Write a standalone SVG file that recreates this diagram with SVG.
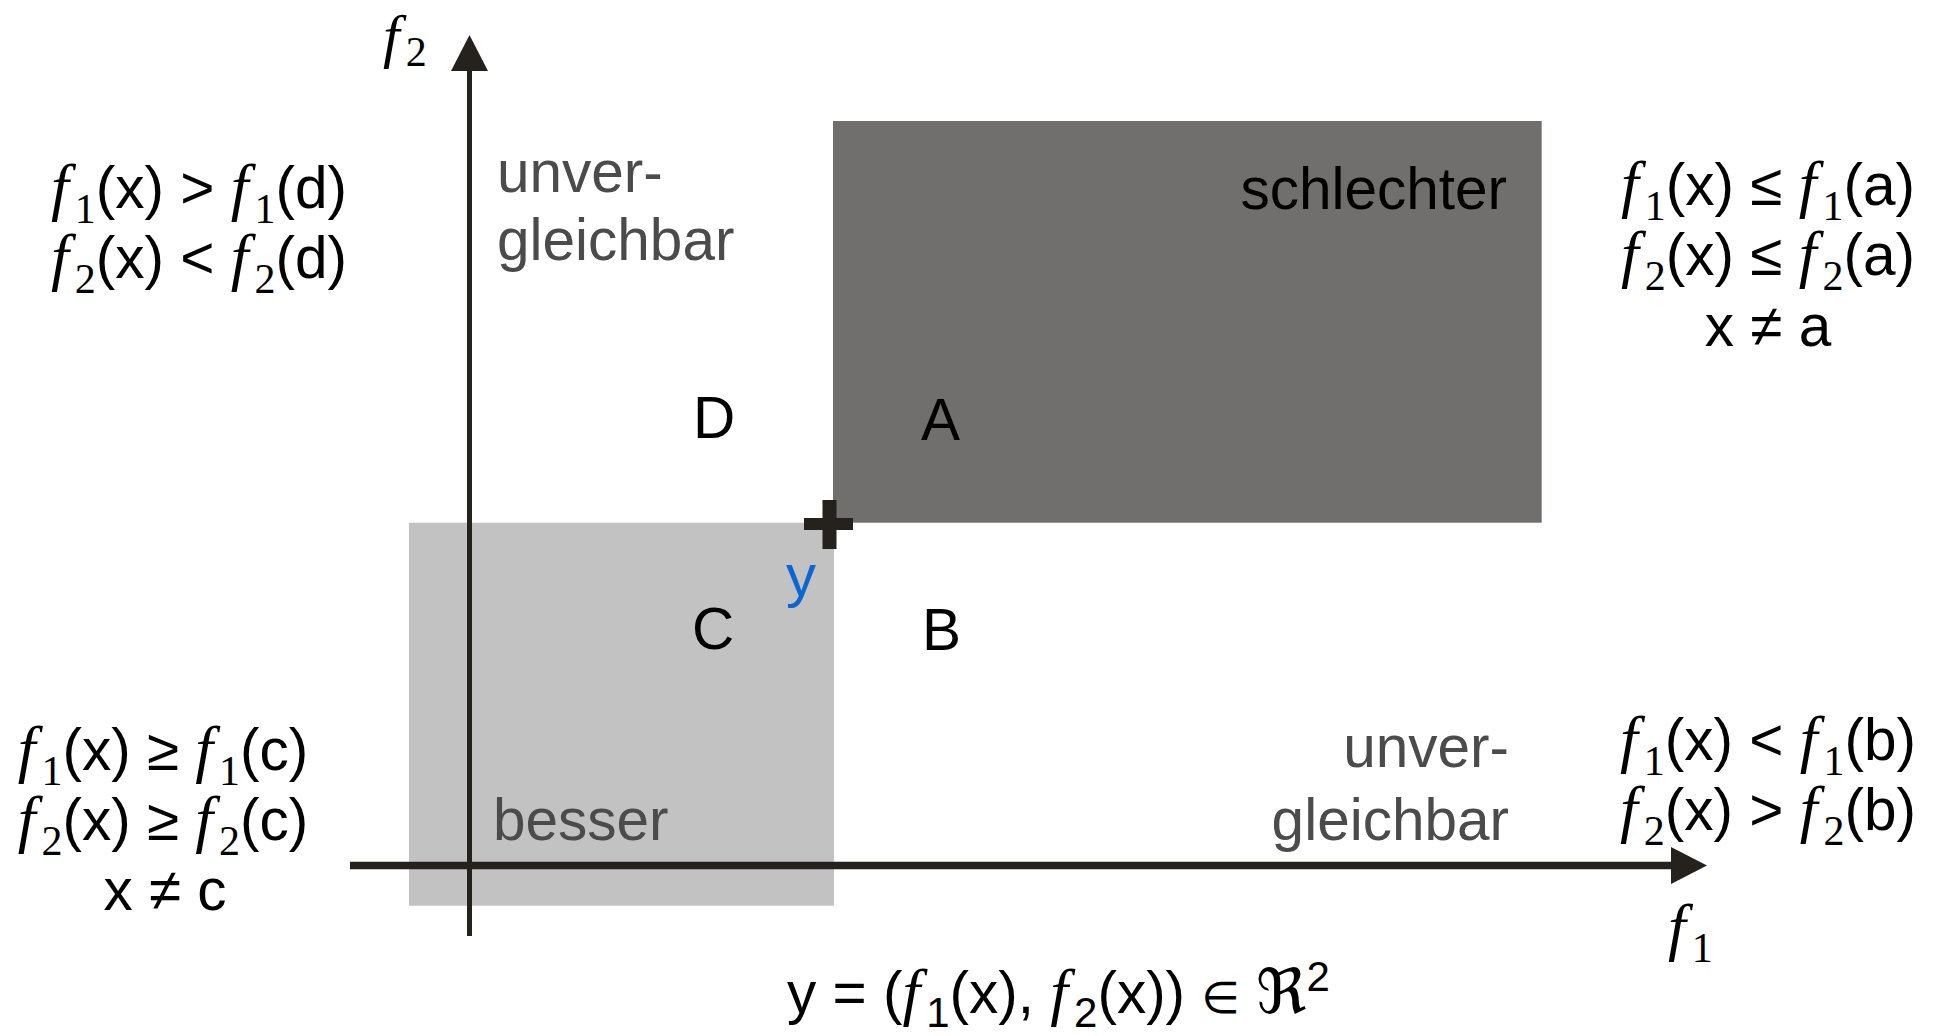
<svg xmlns="http://www.w3.org/2000/svg" width="1934" height="1036" viewBox="0 0 1934 1036">
<defs>
<style>
text{font-family:"Liberation Sans",Arial,sans-serif;font-size:58.5px;fill:#000}
.g{fill:#4b4b4b}
.fi{font-family:"Liberation Serif","Times New Roman",serif;font-style:italic;font-size:64px}
.sb{font-family:"Liberation Serif","Times New Roman",serif;font-size:42px}
.ss{font-size:42px}
.el{font-family:"DejaVu Sans",sans-serif;font-size:44px}
.frak{font-family:"DejaVu Serif","DejaVu Sans",serif;font-size:62px}
.ax{stroke:#25221e;fill:none}
.m{text-anchor:middle}
.e{text-anchor:end}
</style>
<marker id="arr" viewBox="0 0 36 37" refX="0" refY="18.5" markerWidth="36" markerHeight="37" orient="auto" markerUnits="userSpaceOnUse">
<path d="M0,0 L36,18.5 L0,37 Z" fill="#25221e"/>
</marker>
</defs>
<rect width="1934" height="1036" fill="#fff"/>

<g id="region-schlechter">
<rect x="833" y="121" width="708.7" height="401.7" fill="#706f6d"/>
<text x="1507" y="209" class="e">schlechter</text>
</g>
<g id="region-besser">
<rect x="409" y="522.7" width="425" height="383" fill="#c2c2c2"/>
<text x="493" y="840" class="g">besser</text>
</g>

<g id="connectors">
<line class="ax" x1="350" y1="865.5" x2="1671" y2="865.5" stroke-width="7.5" marker-end="url(#arr)"/>
<line class="ax" x1="469.5" y1="936" x2="469.5" y2="71" stroke-width="5" marker-end="url(#arr)"/>
</g>

<g id="label-f2"><text x="383" y="56"><tspan class="fi" style="font-size:60px">f</tspan><tspan class="sb" dx="6" dy="10">2</tspan></text></g>
<g id="label-f1"><text x="1668" y="948"><tspan class="fi">f</tspan><tspan class="sb" dx="6" dy="14">1</tspan></text></g>

<g id="point-y">
<path d="M804,518 H822.5 V500 H836.5 V518 H853 V530 H836.5 V549 H822.5 V530 H804 Z" fill="#25221e"/>
<text x="786" y="596" style="fill:#0a66d0;font-size:60px">y</text>
</g>

<g id="label-A"><text x="921" y="440">A</text></g>
<g id="label-B"><text x="922" y="650">B</text></g>
<g id="label-C"><text x="692" y="649">C</text></g>
<g id="label-D"><text x="693" y="438">D</text></g>

<g id="unvergleichbar-top">
<text x="497" y="192" class="g">unver-</text>
<text x="497" y="260" class="g">gleichbar</text>
</g>
<g id="unvergleichbar-bottom">
<text x="1509" y="767" class="g e">unver-</text>
<text x="1509" y="840" class="g e">gleichbar</text>
</g>

<g id="cond-d">
<text x="199" y="208" class="m"><tspan class="fi">f</tspan><tspan class="sb" dx="6" dy="15">1</tspan><tspan dy="-15">(x) &gt; </tspan><tspan class="fi">f</tspan><tspan class="sb" dx="6" dy="15">1</tspan><tspan dy="-15">(d)</tspan></text>
<text x="199" y="278" class="m"><tspan class="fi">f</tspan><tspan class="sb" dx="6" dy="15">2</tspan><tspan dy="-15">(x) &lt; </tspan><tspan class="fi">f</tspan><tspan class="sb" dx="6" dy="15">2</tspan><tspan dy="-15">(d)</tspan></text>
</g>

<g id="cond-a">
<text x="1768" y="205" class="m"><tspan class="fi">f</tspan><tspan class="sb" dx="6" dy="15">1</tspan><tspan dy="-15">(x) ≤ </tspan><tspan class="fi">f</tspan><tspan class="sb" dx="6" dy="15">1</tspan><tspan dy="-15">(a)</tspan></text>
<text x="1768" y="275" class="m"><tspan class="fi">f</tspan><tspan class="sb" dx="6" dy="15">2</tspan><tspan dy="-15">(x) ≤ </tspan><tspan class="fi">f</tspan><tspan class="sb" dx="6" dy="15">2</tspan><tspan dy="-15">(a)</tspan></text>
<text x="1768" y="346" class="m">x ≠ a</text>
</g>

<g id="cond-c">
<text x="163" y="770" class="m"><tspan class="fi">f</tspan><tspan class="sb" dx="6" dy="15">1</tspan><tspan dy="-15">(x) ≥ </tspan><tspan class="fi">f</tspan><tspan class="sb" dx="6" dy="15">1</tspan><tspan dy="-15">(c)</tspan></text>
<text x="163" y="840" class="m"><tspan class="fi">f</tspan><tspan class="sb" dx="6" dy="15">2</tspan><tspan dy="-15">(x) ≥ </tspan><tspan class="fi">f</tspan><tspan class="sb" dx="6" dy="15">2</tspan><tspan dy="-15">(c)</tspan></text>
<text x="165" y="910" class="m">x ≠ c</text>
</g>

<g id="cond-b">
<text x="1768" y="760" class="m"><tspan class="fi">f</tspan><tspan class="sb" dx="6" dy="15">1</tspan><tspan dy="-15">(x) &lt; </tspan><tspan class="fi">f</tspan><tspan class="sb" dx="6" dy="15">1</tspan><tspan dy="-15">(b)</tspan></text>
<text x="1768" y="830" class="m"><tspan class="fi">f</tspan><tspan class="sb" dx="6" dy="15">2</tspan><tspan dy="-15">(x) &gt; </tspan><tspan class="fi">f</tspan><tspan class="sb" dx="6" dy="15">2</tspan><tspan dy="-15">(b)</tspan></text>
</g>

<g id="formula-y">
<text x="787" y="1013">y = (<tspan class="fi">f</tspan><tspan class="ss" dx="6" dy="14">1</tspan><tspan dy="-14">(x), </tspan><tspan class="fi">f</tspan><tspan class="ss" dx="6" dy="14">2</tspan><tspan dy="-14">(x)) </tspan><tspan class="el">∈</tspan><tspan> </tspan><tspan class="frak">ℜ</tspan><tspan class="ss" dy="-22">2</tspan></text>
</g>
</svg>
